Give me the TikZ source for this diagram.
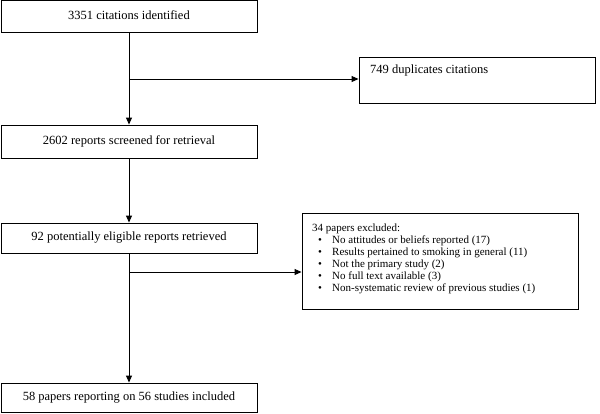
\documentclass[tikz,border=0pt]{standalone}
\usepackage{fontspec}
\setmainfont{Liberation Serif}
\usetikzlibrary{arrows.meta}
\begin{document}
\begin{tikzpicture}[x=1pt,y=-1pt,
  every node/.style={font=\fontsize{12.5}{14}\selectfont},
  mainbox/.style={draw, line width=0.9pt, rectangle, minimum width=256pt, minimum height=32pt, inner sep=0pt},
  sidebox/.style={draw, line width=0.9pt, rectangle, inner sep=0pt},
  conn/.style={line width=0.9pt},
  arr/.style={conn, -{Triangle[length=7pt,width=6pt]}}]
\useasboundingbox (0,0) rectangle (600,413);
% main boxes
\node[mainbox] (b1) at (129,16.5) {\raisebox{3pt}{3351 citations identified}};
\node[mainbox, minimum height=33pt] (b2) at (129,141.5) {\raisebox{3pt}{2602 reports screened for retrieval}};
\node[mainbox, minimum height=30pt] (b3) at (129,238) {\raisebox{2pt}{92 potentially eligible reports retrieved}};
\node[mainbox, minimum height=29pt] (b4) at (129,397.5) {\raisebox{1pt}{58 papers reporting on 56 studies included}};
% side boxes
\node[sidebox, minimum width=236pt, minimum height=46pt] (dup) at (477,80) {};
\node[anchor=north west, inner sep=0pt] (duptext) at (370,65) {749 duplicates citations};
\node[sidebox, minimum width=276pt, minimum height=96pt] (exc) at (440,261) {};
\node[anchor=north west, inner sep=0pt, align=left, font=\fontsize{11}{12}\selectfont] (exctext) at (312,224) {%
34 papers excluded:\\
\makebox[20pt][l]{\hspace{6pt}\textbullet}No attitudes or beliefs reported (17)\\
\makebox[20pt][l]{\hspace{6pt}\textbullet}Results pertained to smoking in general (11)\\
\makebox[20pt][l]{\hspace{6pt}\textbullet}Not the primary study (2)\\
\makebox[20pt][l]{\hspace{6pt}\textbullet}No full text available (3)\\
\makebox[20pt][l]{\hspace{6pt}\textbullet}Non-systematic review of previous studies (1)};
% branch coordinates
\coordinate (br1) at (129,79);
\coordinate (br2) at (129,272);
% connectors
\draw[arr] (b1.south) -- (b2.north);
\draw[arr] (br1) -- (dup.west |- br1);
\draw[arr] (b2.south) -- (b3.north);
\draw[arr] (b3.south) -- (b4.north);
\draw[arr] (br2) -- (exc.west |- br2);
\end{tikzpicture}
\end{document}
